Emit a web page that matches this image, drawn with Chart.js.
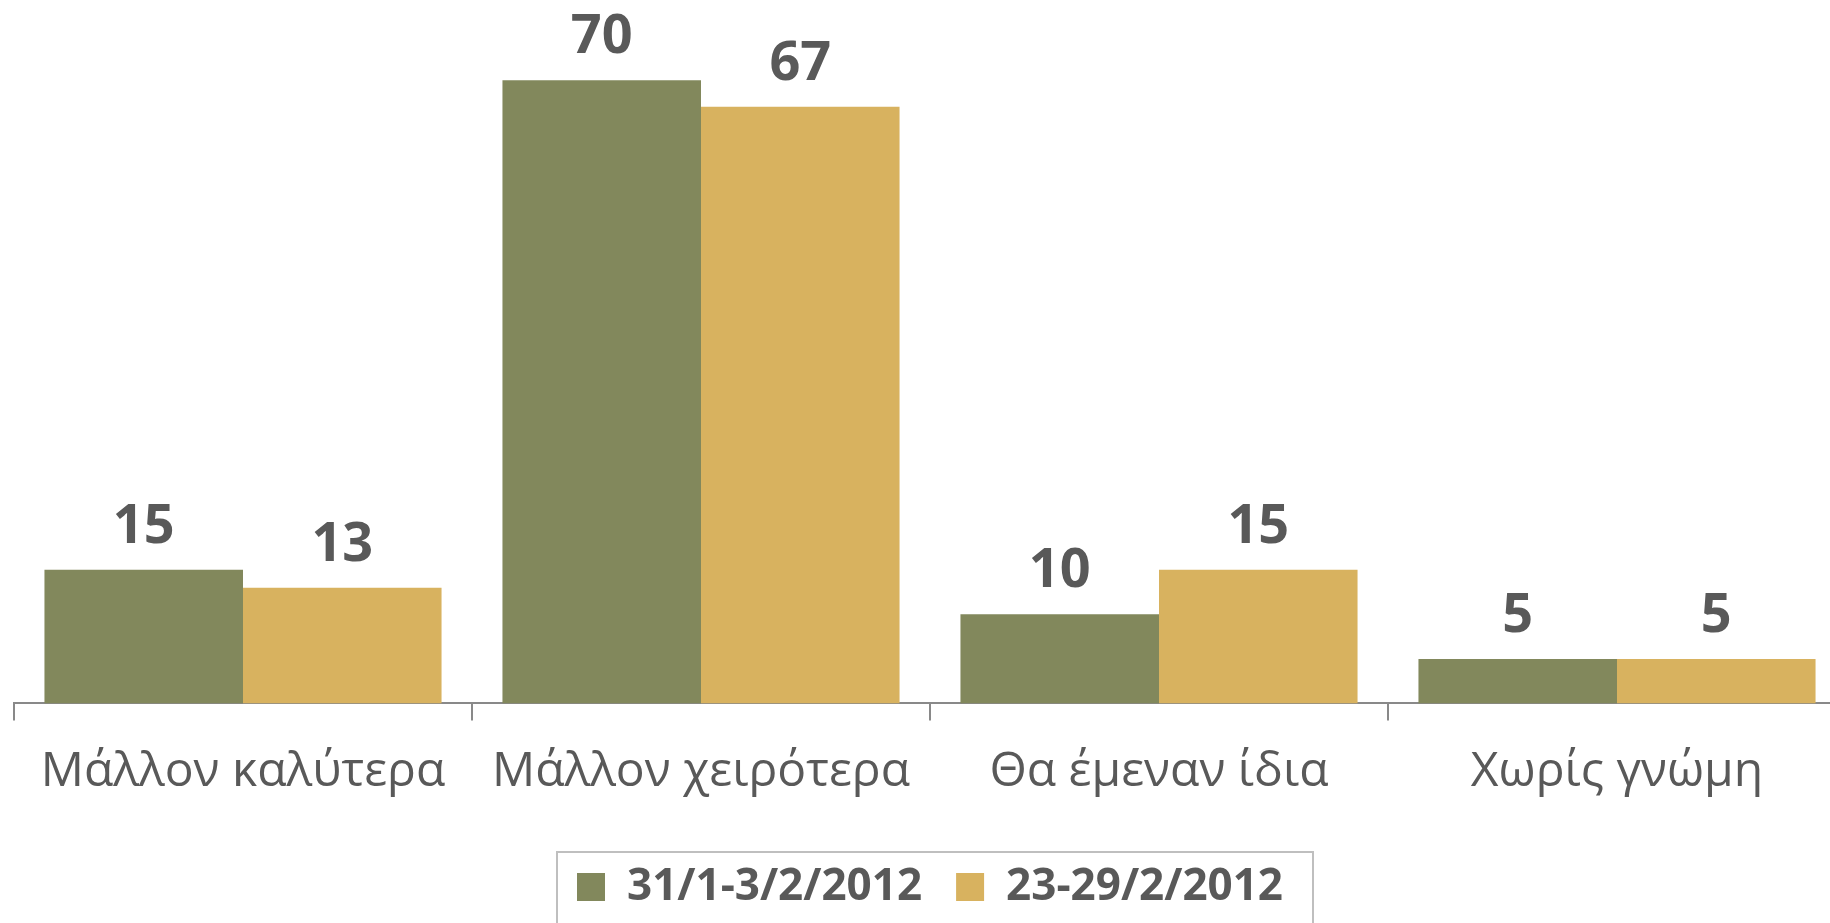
<!DOCTYPE html>
<html>
<head>
<meta charset="utf-8">
<script src="https://cdn.jsdelivr.net/npm/chart.js@4"></script>
<style>
  html, body { margin: 0; padding: 0; background: #fff; overflow: hidden; }
  #wrap { width: 1830px; height: 923px; overflow: hidden; }
</style>
</head>
<body>
<div id="wrap"><canvas id="chart" width="1846" height="923"></canvas></div>
<script>
const CATEGORIES = ["Μάλλον καλύτερα", "Μάλλον χειρότερα", "Θα έμεναν ίδια", "Χωρίς γνώμη"];
const SERIES_NAMES = ["31/1-3/2/2012", "23-29/2/2012"];
const JAN_FEB = [15, 70, 10, 5];
const FEB_END = [13, 67, 15, 5];

const GREEN = "#82885C";
const GOLD = "#D8B25F";
const TEXT = "#595959";
const FONT = "'Open Sans', 'Noto Sans', sans-serif";

// values above each bar, placed from the bar elements themselves
const valueLabels = {
  id: "valueLabels",
  afterDatasetsDraw(chart) {
    const ctx = chart.ctx;
    ctx.save();
    ctx.fillStyle = TEXT;
    ctx.font = `bold 54px ${FONT}`;
    ctx.textAlign = "center";
    ctx.textBaseline = "alphabetic";
    chart.data.datasets.forEach((ds, i) => {
      chart.getDatasetMeta(i).data.forEach((bar, j) => {
        ctx.fillText(String(ds.data[j]), bar.x, bar.y - 27);
      });
    });
    ctx.restore();
  },
};

// thin grey frame around the legend items, open at the bottom edge of the picture
const legendFrame = {
  id: "legendFrame",
  afterDraw(chart) {
    const boxes = chart.legend && chart.legend.legendHitBoxes;
    if (!boxes || !boxes.length) return;
    const mid = (Math.min(...boxes.map((b) => b.left)) + Math.max(...boxes.map((b) => b.left + b.width))) / 2;
    const ctx = chart.ctx;
    ctx.save();
    ctx.strokeStyle = "#BFBFBF";
    ctx.lineWidth = 2;
    ctx.strokeRect(mid - 373, 852, 756, 200);
    ctx.restore();
  },
};

new Chart(document.getElementById("chart"), {
  type: "bar",
  data: {
    labels: CATEGORIES,
    datasets: [
      { label: SERIES_NAMES[0], data: JAN_FEB, backgroundColor: GREEN },
      { label: SERIES_NAMES[1], data: FEB_END, backgroundColor: GOLD },
    ],
  },
  options: {
    responsive: false,
    animation: false,
    devicePixelRatio: 1,
    layout: { padding: { left: 14, right: 0, top: 0, bottom: 4 } },
    datasets: { bar: { categoryPercentage: 0.867, barPercentage: 1.0 } },
    scales: {
      x: {
        grid: { display: true, drawOnChartArea: false, drawTicks: true, tickLength: 17, color: "#898989", lineWidth: 2, offset: true },
        border: { display: true, color: "#898989", width: 2 },
        ticks: { color: TEXT, font: { family: FONT, size: 48 }, padding: 23, maxRotation: 0, autoSkip: false },
        afterFit(scale) { scale.height += 7; },
      },
      y: { display: false, min: 0, max: 79 },
    },
    plugins: {
      tooltip: { enabled: false },
      legend: {
        position: "bottom",
        labels: {
          color: TEXT,
          font: { family: FONT, size: 44, weight: "bold" },
          boxWidth: 28,
          boxHeight: 28,
          padding: 34,
        },
      },
    },
  },
  plugins: [valueLabels, legendFrame],
});
</script>
</body>
</html>
